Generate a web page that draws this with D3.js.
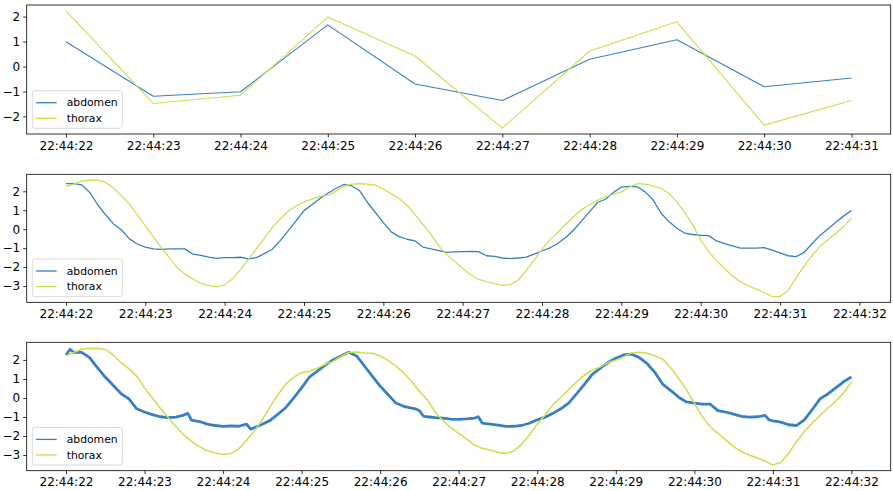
<!DOCTYPE html>
<html>
<head>
<meta charset="utf-8">
<script src="https://cdn.jsdelivr.net/npm/d3@7"></script>
<style>
  body { margin: 0; background: #fff; }
  svg { display: block; font-family: "DejaVu Sans", sans-serif; }
</style>
</head>
<body>
<div id="chart"></div>
<script>
// seconds after 22:44:22
const series = ["abdomen", "thorax"];

// panel 1: one sample per second
const topT = [0, 1, 2, 3, 4, 5, 6, 7, 8, 9];
const topAbdomen = [0.99, -1.19, -1.01, 1.67, -0.70, -1.36, 0.29, 1.07, -0.81, -0.46];
const topThorax = [2.23, -1.48, -1.15, 1.98, 0.42, -2.47, 0.62, 1.79, -2.35, -1.36];

// panel 2: 10 Hz, t = 0 .. 9.9
const midAbdomen = [
  2.41, 2.40, 2.34, 1.94, 1.29, 0.76, 0.28, -0.04, -0.51, -0.78,
  -0.94, -1.04, -1.06, -1.04, -1.04, -1.04, -1.32, -1.38, -1.47, -1.54,
  -1.50, -1.50, -1.48, -1.57, -1.50, -1.29, -1.06, -0.60, -0.09, 0.44,
  0.98, 1.29, 1.62, 1.90, 2.15, 2.36, 2.29, 2.04, 1.41, 0.88,
  0.35, -0.14, -0.39, -0.53, -0.62, -0.94, -1.04, -1.13, -1.22, -1.20,
  -1.18, -1.17, -1.18, -1.40, -1.43, -1.52, -1.55, -1.52, -1.47, -1.31,
  -1.15, -0.99, -0.74, -0.44, -0.04, 0.44, 0.93, 1.41, 1.58, 1.94,
  2.22, 2.26, 2.24, 1.97, 1.55, 0.84, 0.40, 0.05, -0.21, -0.28,
  -0.32, -0.34, -0.62, -0.76, -0.88, -1.00, -1.00, -1.00, -0.97, -1.11,
  -1.25, -1.40, -1.45, -1.24, -0.78, -0.34, 0.00, 0.35, 0.69, 0.99
];
const midThorax = [
  2.26, 2.38, 2.54, 2.59, 2.59, 2.47, 2.17, 1.76, 1.32, 0.76,
  0.17, -0.39, -0.97, -1.48, -2.03, -2.37, -2.63, -2.86, -2.98, -3.04,
  -2.95, -2.61, -2.13, -1.59, -1.04, -0.48, 0.10, 0.54, 0.95, 1.22,
  1.44, 1.59, 1.73, 1.78, 2.01, 2.26, 2.38, 2.40, 2.38, 2.33,
  2.11, 1.87, 1.62, 1.25, 0.77, 0.26, -0.27, -0.88, -1.34, -1.71,
  -2.07, -2.40, -2.65, -2.76, -2.88, -2.96, -2.93, -2.68, -2.19, -1.64,
  -1.06, -0.55, -0.16, 0.26, 0.67, 1.04, 1.30, 1.53, 1.71, 1.83,
  1.97, 2.22, 2.40, 2.38, 2.29, 2.15, 1.90, 1.44, 0.88, 0.23,
  -0.57, -1.18, -1.66, -2.07, -2.47, -2.77, -2.98, -3.16, -3.34, -3.55,
  -3.55, -3.25, -2.58, -1.96, -1.41, -0.92, -0.57, -0.23, 0.14, 0.58
];

// panel 3: raw signal, t = 0 .. 10
const rawAbdomenT = [
  0, 0.05, 0.1, 0.2, 0.3, 0.4, 0.5, 0.6, 0.7, 0.8, 0.9,
  1.0, 1.1, 1.2, 1.3, 1.4, 1.5, 1.55, 1.6, 1.7, 1.8, 1.9,
  2.0, 2.1, 2.2, 2.3, 2.35, 2.4, 2.5, 2.6, 2.7, 2.8, 2.9,
  3.0, 3.1, 3.2, 3.3, 3.4, 3.5, 3.6, 3.7, 3.8, 3.9,
  4.0, 4.1, 4.2, 4.3, 4.4, 4.45, 4.5, 4.55, 4.6, 4.7, 4.8, 4.9,
  5.0, 5.1, 5.2, 5.25, 5.3, 5.4, 5.5, 5.6, 5.7, 5.8, 5.9,
  6.0, 6.1, 6.2, 6.3, 6.4, 6.5, 6.6, 6.7, 6.8, 6.9,
  7.0, 7.1, 7.2, 7.3, 7.4, 7.5, 7.6, 7.7, 7.8, 7.9,
  8.0, 8.1, 8.2, 8.3, 8.4, 8.5, 8.6, 8.7, 8.8, 8.9, 8.95,
  9.0, 9.1, 9.2, 9.3, 9.4, 9.5, 9.6, 9.7, 9.8, 9.9, 10.0
];
const rawAbdomen = [
  2.26, 2.55, 2.40, 2.40, 2.12, 1.59, 1.10, 0.67, 0.23, -0.04, -0.57,
  -0.74, -0.88, -0.99, -1.03, -1.01, -0.90, -0.81, -1.17, -1.24, -1.38, -1.45,
  -1.50, -1.47, -1.49, -1.38, -1.64, -1.56, -1.38, -1.18, -0.85, -0.50, 0.00,
  0.53, 1.10, 1.41, 1.73, 2.00, 2.21, 2.40, 2.21, 1.68, 1.15,
  0.62, 0.18, -0.27, -0.44, -0.53, -0.57, -0.67, -0.95, -0.99, -1.03, -1.06, -1.11,
  -1.13, -1.10, -1.06, -0.99, -1.33, -1.38, -1.43, -1.50, -1.49, -1.45, -1.33,
  -1.15, -1.01, -0.81, -0.57, -0.27, 0.21, 0.71, 1.24, 1.55, 1.86,
  2.09, 2.26, 2.30, 2.12, 1.80, 1.33, 0.71, 0.39, 0.04, -0.21,
  -0.27, -0.32, -0.32, -0.67, -0.74, -0.85, -0.97, -1.01, -0.99, -0.92, -1.15,
  -1.20, -1.27, -1.41, -1.45, -1.15, -0.62, -0.05, 0.21, 0.53, 0.85, 1.11
];
const rawThorax = [
  2.21, 2.39, 2.56, 2.60, 2.62, 2.55, 2.26, 1.86, 1.54, 1.15,
  0.53, 0.00, -0.53, -1.03, -1.50, -1.95, -2.30, -2.56, -2.78, -2.90,
  -2.97, -2.92, -2.69, -2.23, -1.73, -1.15, -0.44, 0.18, 0.74, 1.10,
  1.33, 1.41, 1.56, 1.77, 1.92, 2.18, 2.39, 2.42, 2.37, 2.35,
  2.21, 1.98, 1.68, 1.33, 0.88, 0.35, -0.09, -0.74, -1.20, -1.56,
  -1.86, -2.16, -2.48, -2.65, -2.74, -2.86, -2.92, -2.79, -2.44, -1.95,
  -1.38, -0.88, -0.35, 0.04, 0.44, 0.85, 1.20, 1.47, 1.62, 1.86,
  1.98, 2.16, 2.37, 2.40, 2.35, 2.21, 2.03, 1.59, 1.03, 0.44,
  -0.27, -0.97, -1.50, -1.86, -2.21, -2.56, -2.83, -3.01, -3.15, -3.32,
  -3.52, -3.40, -2.92, -2.30, -1.77, -1.33, -0.92, -0.53, -0.18, 0.27, 0.83
];

const colors = { abdomen: "#3a7fc0", thorax: "#c6e04a" };

const width = 893, height = 491;
const start = new Date(2020, 0, 1, 22, 44, 22);
const at = s => new Date(start.getTime() + Math.round(s * 1000));
const step = 0.1;

const panels = [
  { top: 5, bottom: 134,
    abdomen: topT.map((t, i) => [t, topAbdomen[i]]),
    thorax: topT.map((t, i) => [t, topThorax[i]]),
    widths: { abdomen: 1.1, thorax: 1.1 } },
  { top: 174.3, bottom: 302.3,
    abdomen: midAbdomen.map((v, i) => [i * step, v]),
    thorax: midThorax.map((v, i) => [i * step, v]),
    widths: { abdomen: 1.3, thorax: 1.2 } },
  { top: 342.3, bottom: 470.7,
    abdomen: rawAbdomenT.map((t, i) => [t, rawAbdomen[i]]),
    thorax: rawThorax.map((v, i) => [i * step, v]),
    widths: { abdomen: 2.8, thorax: 1.5 } }
];

const left = 26.7, right = 890.7;

const svg = d3.select("#chart").append("svg")
  .attr("width", width)
  .attr("height", height);

function padded(ext) {
  const p = (ext[1] - ext[0]) * 0.05;
  return [ext[0] - p, ext[1] + p];
}

panels.forEach(p => {
  const all = p.abdomen.concat(p.thorax);
  const tExt = padded(d3.extent(all, d => d[0]));
  const x = d3.scaleTime()
    .domain([at(tExt[0]), at(tExt[1])])
    .range([left, right]);
  const y = d3.scaleLinear()
    .domain(padded(d3.extent(all, d => d[1])))
    .range([p.bottom, p.top]);

  const g = svg.append("g");

  g.append("defs").append("clipPath")
    .attr("id", "clip" + p.top)
    .append("rect")
    .attr("x", left).attr("y", p.top)
    .attr("width", right - left).attr("height", p.bottom - p.top);

  const line = d3.line()
    .x(d => x(at(d[0])))
    .y(d => y(d[1]));

  const plot = g.append("g").attr("clip-path", `url(#clip${p.top})`);
  series.forEach(s => {
    plot.append("path")
      .datum(p[s])
      .attr("fill", "none")
      .attr("stroke", colors[s])
      .attr("stroke-width", p.widths[s])
      .attr("stroke-linejoin", "round")
      .attr("d", line);
  });

  const xAxis = g.append("g")
    .attr("transform", `translate(0,${p.bottom})`)
    .call(d3.axisBottom(x)
      .ticks(d3.timeSecond.every(1))
      .tickFormat(d3.timeFormat("%H:%M:%S"))
      .tickSize(3.5).tickPadding(3.5));
  xAxis.select(".domain").remove();
  xAxis.selectAll("text").attr("font-size", 12).attr("fill", "#000")
    .attr("font-family", "DejaVu Sans, sans-serif");
  xAxis.selectAll("line").attr("stroke", "#000").attr("stroke-width", 0.8);

  const yAxis = g.append("g")
    .attr("transform", `translate(${left},0)`)
    .call(d3.axisLeft(y).ticks(6).tickFormat(d3.format("d"))
      .tickSize(3.5).tickPadding(3));
  yAxis.select(".domain").remove();
  yAxis.selectAll("text").attr("font-size", 12).attr("fill", "#000")
    .attr("font-family", "DejaVu Sans, sans-serif");
  yAxis.selectAll("line").attr("stroke", "#000").attr("stroke-width", 0.8);

  g.append("rect")
    .attr("x", left).attr("y", p.top)
    .attr("width", right - left).attr("height", p.bottom - p.top)
    .attr("fill", "none")
    .attr("stroke", "#000")
    .attr("stroke-width", 0.8);

  // legend, lower left
  const lg = g.append("g")
    .attr("transform", `translate(${left + 5.6},${p.bottom - 43.3})`);
  lg.append("rect")
    .attr("width", 90).attr("height", 37.6)
    .attr("rx", 2.5)
    .attr("fill", "#fff").attr("fill-opacity", 0.8)
    .attr("stroke", "#d0d0d0").attr("stroke-width", 0.8);
  series.forEach((s, i) => {
    const cy = 12 + i * 15.6;
    lg.append("line")
      .attr("x1", 3.7).attr("x2", 24.4)
      .attr("y1", cy).attr("y2", cy)
      .attr("stroke", colors[s]).attr("stroke-width", 1.3);
    lg.append("text")
      .attr("x", 34.4).attr("y", cy)
      .attr("dy", "0.35em")
      .attr("font-size", 10.8)
      .text(s);
  });
});
</script>
</body>
</html>
